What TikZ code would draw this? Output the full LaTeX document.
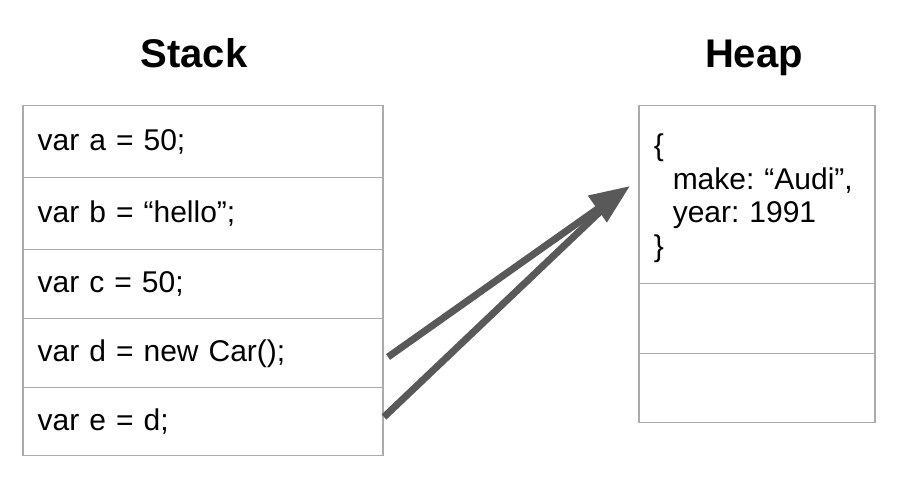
\documentclass[tikz,border=0pt]{standalone}
\usepackage{fontspec}
\setmainfont{Liberation Sans}
\usetikzlibrary{arrows.meta}
\definecolor{bordergray}{HTML}{ABABAB}
\definecolor{arrowgray}{HTML}{595959}
\frenchspacing
\begin{document}
\begin{tikzpicture}[x=1pt,y=-1pt,
  cell/.style={draw=bordergray, line width=1.5pt, inner xsep=15pt, inner ysep=0pt,
    minimum width=360pt, text width=330pt, align=left, anchor=north west,
    font=\fontsize{30}{33.5}\selectfont\frenchspacing},
  hcell/.style={cell, minimum width=236pt, text width=206pt},
  title/.style={font=\fontsize{40}{44}\selectfont\bfseries, inner sep=0pt, anchor=base},
  ptr/.style={draw=arrowgray, line width=7pt},
]
\useasboundingbox (0,0) rectangle (906,486);
\node[title] (tstack) at (194,68) {Stack};
\node[title] (theap) at (754,68) {Heap};
\node[cell, minimum height=72pt] (s1) at (22,105) {var a = 50;};
\node[cell, minimum height=72pt] (s2) at (22,177) {var b = “hello”;};
\node[cell, minimum height=69pt] (s3) at (22,249) {var c = 50;};
\node[cell, minimum height=69pt] (s4) at (22,318) {var d = new Car();};
\node[cell, minimum height=68pt] (s5) at (22,387) {var e = d;};
\node[hcell, minimum height=178pt] (h1) at (638,105) {\rule{0pt}{29pt}\{\\\hspace*{19pt}make: “Audi”,\\\hspace*{19pt}year: 1991\\\}};
\node[hcell, minimum height=70pt] (h2) at (638,283) {};
\node[hcell, minimum height=69pt] (h3) at (638,353) {};
\coordinate (d) at (388,357);
\coordinate (e) at (384,417);
\coordinate (tip) at (630,186);
\coordinate (eend) at (606,206);
\draw[ptr] (e) -- (eend);
\draw[ptr, -{Triangle[length=40pt,width=31pt]}] (d) -- (tip);
\end{tikzpicture}
\end{document}
